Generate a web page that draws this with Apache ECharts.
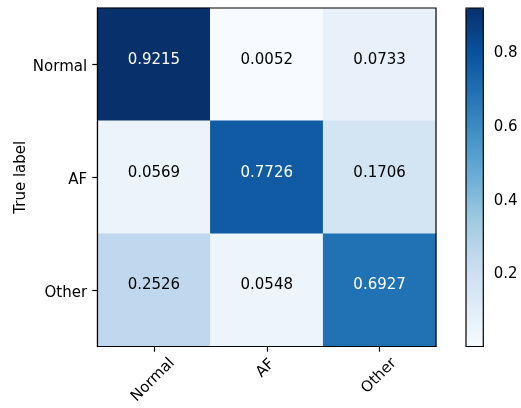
<!DOCTYPE html>
<html>
<head>
<meta charset="utf-8">
<script src="https://cdn.jsdelivr.net/npm/echarts@6/dist/echarts.min.js"></script>
<style>
  html, body { margin: 0; padding: 0; background: #fff; }
  #chart { width: 521px; height: 408px; }
</style>
</head>
<body>
<div id="chart"></div>
<script>
// Class names shared by both axes
const classNames = ['Normal', 'AF', 'Other'];
// Normalized confusion matrix rows (true label) x columns (predicted label)
const rowNormal = [0.9215, 0.0052, 0.0733];
const rowAF = [0.0569, 0.7726, 0.1706];
const rowOther = [0.2526, 0.0548, 0.6927];
const matrixRows = [rowNormal, rowAF, rowOther];
// Colour bar tick values
const colorbarTicks = [0.2, 0.4, 0.6, 0.8];
// Blues colormap stops
const blues = ['#f7fbff', '#deebf7', '#c6dbef', '#9ecae1', '#6baed6',
               '#4292c6', '#2171b5', '#08519c', '#08306b'];

const FONT = 'DejaVu Sans';
const FS = 15;
const TICK = 5.2;
const LW = 1.2;

const allValues = matrixRows.flat();
const vmin = Math.min(...allValues);
const vmax = Math.max(...allValues);
const thresh = vmax / 2;

const cells = [];
matrixRows.forEach((row, i) => {
  row.forEach((v, j) => {
    cells.push({
      value: [j, i, v],
      label: { color: v > thresh ? '#ffffff' : '#000000' }
    });
  });
});

// Rotated x tick labels are centred under their ticks: the right padding slides
// each label back along its baseline, the line height drops it below the anchor.
const xLabelShift = {
  Normal: { padRight: 27.6, lineHeight: 24.8 },
  AF:     { padRight: 11.6, lineHeight: 7.6 },
  Other:  { padRight: 21.0, lineHeight: 19.6 }
};

const chart = echarts.init(document.getElementById('chart'), null, { renderer: 'canvas' });
chart.setOption({
  animation: false,
  backgroundColor: '#ffffff',
  textStyle: { fontFamily: FONT },
  grid: [
    { left: 97.5, top: 8, width: 338.5, height: 338.5, show: true, outerBoundsMode: 'none',
      borderColor: '#000', borderWidth: LW, backgroundColor: 'transparent', z: 5 },
    { left: 466, top: 8, width: 17.3, height: 338.5, show: true, outerBoundsMode: 'none',
      borderColor: '#000', borderWidth: LW, backgroundColor: 'transparent', z: 10 }
  ],
  xAxis: [
    {
      type: 'category', gridIndex: 0,
      data: classNames.map(n => ({
        value: n,
        textStyle: {
          align: 'center', verticalAlign: 'top',
          lineHeight: xLabelShift[n].lineHeight,
          padding: [0, xLabelShift[n].padRight, 0, 0]
        }
      })),
      axisLine: { show: true, onZero: false, lineStyle: { color: '#000', width: LW } },
      axisTick: { show: true, alignWithLabel: true, length: TICK, lineStyle: { color: '#000', width: LW } },
      axisLabel: { rotate: 45, margin: 15,
                   color: '#000', fontSize: FS, fontFamily: FONT },
      splitLine: { show: false }
    },
    { type: 'value', gridIndex: 1, show: false, min: 0, max: 1 }
  ],
  yAxis: [
    {
      type: 'category', gridIndex: 0, inverse: true,
      data: classNames,
      name: 'True label', nameLocation: 'middle', nameGap: 69, nameMoveOverlap: false,
      nameTextStyle: { color: '#000', fontSize: FS, fontFamily: FONT },
      axisLine: { show: true, lineStyle: { color: '#000', width: LW } },
      axisTick: { show: true, alignWithLabel: true, length: TICK, lineStyle: { color: '#000', width: LW } },
      axisLabel: { margin: 2 * TICK, color: '#000', fontSize: FS, fontFamily: FONT,
                   verticalAlign: 'top', lineHeight: 6 },
      splitLine: { show: false }
    },
    {
      type: 'value', gridIndex: 1, position: 'right',
      min: vmin, max: vmax,
      axisLine: { show: false },
      axisTick: { show: true, length: TICK, customValues: colorbarTicks,
                  lineStyle: { color: '#000', width: LW } },
      axisLabel: { margin: 2 * TICK, color: '#000', fontSize: FS, fontFamily: FONT,
                   customValues: colorbarTicks, formatter: v => v.toFixed(1) },
      splitLine: { show: false }
    }
  ],
  visualMap: {
    type: 'continuous', seriesIndex: 0,
    min: vmin, max: vmax,
    calculable: false, showLabel: false, hoverLink: false,
    orient: 'vertical', left: 466, top: 8, padding: 0,
    itemWidth: 17.3, itemHeight: 338.5,
    inRange: { color: blues }
  },
  series: [{
    type: 'heatmap',
    xAxisIndex: 0, yAxisIndex: 0,
    data: cells,
    label: {
      show: true, fontSize: FS, fontFamily: FONT, offset: [0, -4.5],
      formatter: p => p.value[2].toFixed(4)
    },
    emphasis: { disabled: true }
  }]
});
</script>
</body>
</html>
